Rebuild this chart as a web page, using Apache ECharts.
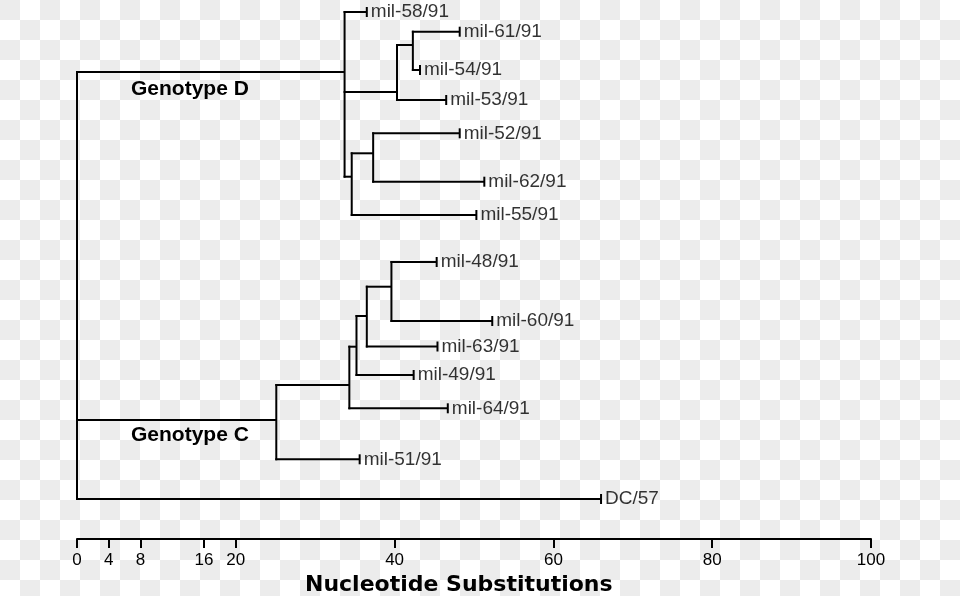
<!DOCTYPE html>
<html><head><meta charset="utf-8">
<script src="https://cdn.jsdelivr.net/npm/echarts@6/dist/echarts.min.js"></script>
<style>
html,body{margin:0;padding:0;}
body{background:repeating-conic-gradient(#ffffff 0% 25%, #ececec 0% 50%) 0 0/40px 40px;}
#chart{width:960px;height:596px;}
</style>
</head><body>
<div id="chart"></div>
<script>
// Internal (branching) nodes of the dendrogram
const internalNodes   = ['root','D','A','A1','B','B1','C','C1','C2','C3','C4'];
const internalParents = [null,'root','D','A','D','B','root','C','C1','C2','C3'];
const internalDist    = [0, 33.7, 40.3, 42.3, 34.6, 37.3, 25.1, 34.3, 35.2, 36.5, 39.6];
const internalRow     = [null, 72, 92, 45, 176.7, 153.3, 420, 385, 346.7, 316, 286.7];

// Leaves (isolates)
const leafNames   = ['mil-58/91','mil-61/91','mil-54/91','mil-53/91','mil-52/91','mil-62/91','mil-55/91',
                     'mil-48/91','mil-60/91','mil-63/91','mil-49/91','mil-64/91','mil-51/91','DC/57'];
const leafParents = ['D','A1','A1','A','B1','B1','B','C4','C4','C3','C2','C1','C','root'];
const leafDist    = [36.5, 48.2, 43.2, 46.5, 48.2, 51.3, 50.3, 45.3, 52.3, 45.4, 42.4, 46.7, 35.6, 66.0];
const leafRow     = [12, 31.7, 70, 100, 133.3, 181.7, 215, 262, 321, 346.5, 375, 408.3, 459.3, 499];

// Axis ticks
const tickValues = [0, 4, 8, 16, 20, 40, 60, 80, 100];
const groupLabels = ['Genotype D', 'Genotype C'];
const axisTitle = 'Nucleotide Substitutions';

// ---- build node table ----
const nodes = {};
internalNodes.forEach((n, i) => nodes[n] = {x: internalDist[i], y: internalRow[i], parent: internalParents[i], children: []});
leafNames.forEach((n, i) => nodes[n] = {x: leafDist[i], y: leafRow[i], parent: leafParents[i], children: [], leaf: true});
Object.keys(nodes).forEach(n => { const p = nodes[n].parent; if (p) nodes[p].children.push(n); });

// horizontal segments: [x1, x2, y]
const hSegs = [];
Object.keys(nodes).forEach(n => { const nd = nodes[n]; if (nd.parent) hSegs.push([nodes[nd.parent].x, nd.x, nd.y]); });
// vertical segments: [x, y1, y2]
const vSegs = [];
internalNodes.forEach(n => {
  const ys = nodes[n].children.map(c => nodes[c].y);
  vSegs.push([nodes[n].x, Math.min(...ys), Math.max(...ys)]);
});
const leafData = leafNames.map((n, i) => [leafDist[i], leafRow[i], n]);

const lineStyle = {stroke: '#000', lineWidth: 2};
const chart = echarts.init(document.getElementById('chart'), null, {renderer: 'canvas'});
chart.setOption({
  backgroundColor: 'transparent',
  animation: false,
  grid: {left: 77, right: 89, top: 0, height: 539},
  xAxis: {
    type: 'value', min: 0, max: 100,
    axisLine: {show: true, onZero: false, lineStyle: {color: '#000', width: 2}},
    axisTick: {show: true, customValues: tickValues, length: 9, lineStyle: {color: '#000', width: 2}},
    axisLabel: {customValues: tickValues, color: '#000', fontSize: 17, fontFamily: 'Liberation Sans', margin: 13},
    splitLine: {show: false}
  },
  yAxis: {type: 'value', min: 0, max: 539, inverse: true, show: false},
  series: [
    {
      type: 'custom', data: hSegs, silent: true,
      renderItem: (params, api) => {
        const a = api.coord([api.value(0), api.value(2)]);
        const b = api.coord([api.value(1), api.value(2)]);
        return {type: 'line', shape: {x1: a[0] - 1, y1: a[1], x2: b[0], y2: b[1]}, style: lineStyle};
      }
    },
    {
      type: 'custom', data: vSegs, silent: true,
      renderItem: (params, api) => {
        const a = api.coord([api.value(0), api.value(1)]);
        const b = api.coord([api.value(0), api.value(2)]);
        return {type: 'line', shape: {x1: a[0], y1: a[1] - 1, x2: b[0], y2: b[1] + 1}, style: lineStyle};
      }
    },
    {
      type: 'custom', data: leafData, silent: true,
      renderItem: (params, api) => {
        const p = api.coord([api.value(0), api.value(1)]);
        return {type: 'line', shape: {x1: p[0], y1: p[1] - 5, x2: p[0], y2: p[1] + 5}, style: lineStyle};
      }
    },
    {
      type: 'scatter', data: leafData, symbolSize: 0, silent: true,
      label: {show: true, position: 'right', distance: 4, formatter: p => p.value[2],
              color: '#000', fontSize: 19, fontFamily: 'Liberation Sans'}
    }
  ],
  graphic: [
    {type: 'text', left: 131, top: 79, style: {text: groupLabels[0], fill: '#000', font: 'bold 21px "Liberation Sans"'}},
    {type: 'text', left: 131, top: 425, style: {text: groupLabels[1], fill: '#000', font: 'bold 21px "Liberation Sans"'}},
    {type: 'text', left: 305, top: 574, style: {text: axisTitle, fill: '#000', font: 'bold 22px "DejaVu Sans"'}}
  ]
});
</script>
</body></html>
